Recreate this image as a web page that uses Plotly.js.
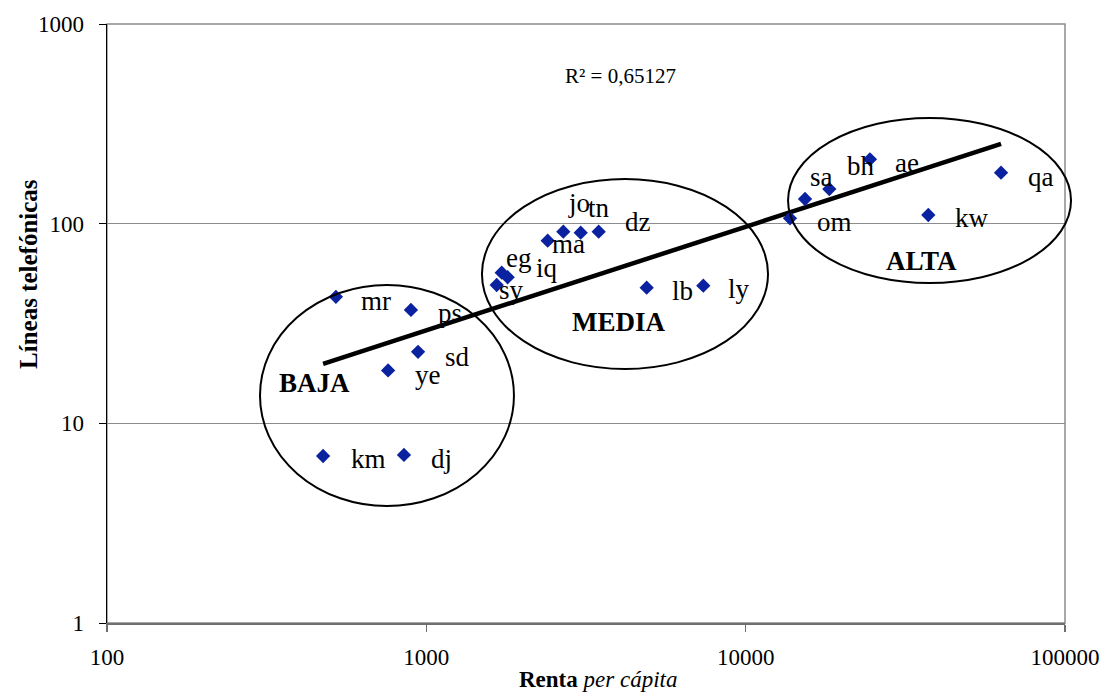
<!DOCTYPE html>
<html>
<head>
<meta charset="utf-8">
<script src="https://cdn.plot.ly/plotly-3.0.1.min.js"></script>
<style>html,body{margin:0;padding:0;background:#fff;}#chart{width:1102px;height:693px;}</style>
</head>
<body>
<div id="chart"></div>
<script>
// ---- data ----
const countries = ['mr','ps','sd','ye','km','dj','eg','iq','sy','ma','jo','tn','dz','lb','ly','om','sa','bh','ae','kw','qa'];
const renta  = [521, 895, 942, 759, 475, 851, 1722, 1798, 1661, 2399, 2685, 3044, 3465, 4898, 7368, 13765, 15340, 18280, 24500, 37320, 63050];
const lineas = [43, 37, 22.8, 18.4, 6.86, 6.95, 56.8, 53.9, 49.3, 82.2, 91.2, 90.1, 91.2, 47.8, 48.9, 106.4, 132.9, 149, 210, 110.5, 180];
const groupNames = ['BAJA', 'MEDIA', 'ALTA'];
const r2Text = 'R² = 0,65127';
const xTickVals = [100, 1000, 10000, 100000];
const xTickText = ['100', '1000', '10000', '100000'];
const yTickVals = [1, 10, 100, 1000];
const yTickText = ['1', '10', '100', '1000'];

// ---- layout / style settings ----
const FONT = 'Liberation Serif, Times New Roman, serif';
const labelShift = {mr:[40,4], ps:[39,3], sd:[39,5], ye:[40,5], km:[45,3], dj:[38,4],
  eg:[17,-15], iq:[39,-9], sy:[15,5], ma:[21,3], jo:[16,-29], tn:[18,-25], dz:[39,-10],
  lb:[36,3], ly:[36,3], om:[45,4], sa:[16,-22], bh:[32,-23], ae:[37,4], kw:[44,3], qa:[40,4]};
const groupPos = {BAJA:[0.2171,0.4007], MEDIA:[0.5344,0.5025], ALTA:[0.8497,0.6043]};
const ellipses = [[0.1597,0.1953,0.4248,0.5643],[0.3914,0.424,0.690,0.7412],[0.7109,0.5676,1.0063,0.8431]];

// power trend line (least squares in log space)
const lx = renta.map(v => Math.log10(v)), ly = lineas.map(v => Math.log10(v));
const n = lx.length;
const mx = lx.reduce((a,b)=>a+b,0)/n, my = ly.reduce((a,b)=>a+b,0)/n;
let sxy=0, sxx=0;
for (let i=0;i<n;i++){ sxy += (lx[i]-mx)*(ly[i]-my); sxx += (lx[i]-mx)**2; }
const slope = sxy/sxx, icpt = my - slope*mx;
const xMin = Math.min(...renta), xMax = Math.max(...renta);
const trendX = [xMin, xMax];
const trendY = trendX.map(x => Math.pow(10, icpt + slope*Math.log10(x)));

const traces = [
  {x: trendX, y: trendY, mode:'lines', line:{color:'#000', width:4.5}, hoverinfo:'skip', showlegend:false},
  {x: renta, y: lineas, text: countries, mode:'markers', type:'scatter',
   marker:{symbol:'diamond', size:11, color:'#0A22A0'}, showlegend:false}
];

const annotations = countries.map((c,i) => ({
  x: Math.log10(renta[i]), y: Math.log10(lineas[i]), xref:'x', yref:'y',
  xanchor:'center', yanchor:'middle',
  text: c, showarrow:false, xshift: labelShift[c][0], yshift: -labelShift[c][1],
  font:{family:FONT, size:27, color:'#000'}
}));
groupNames.forEach(g => annotations.push({
  x: groupPos[g][0], y: groupPos[g][1], xref:'paper', yref:'paper', text:'<b>'+g+'</b>',
  xanchor:'center', yanchor:'middle',
  showarrow:false, font:{family:FONT, size:27, color:'#000'}
}));
annotations.push({x:0.5355, y:0.9132, xref:'paper', yref:'paper', text:r2Text, showarrow:false,
  xanchor:'center', yanchor:'middle', font:{family:FONT, size:21, color:'#000'}});
annotations.push({x:-0.0825, y:0.5826, xref:'paper', yref:'paper', text:'<b>Líneas telefónicas</b>',
  xanchor:'center', yanchor:'middle',
  textangle:-90, showarrow:false, font:{family:FONT, size:25, color:'#000'}});
annotations.push({x:0.5125, y:-0.0945, xref:'paper', yref:'paper', text:'<b>Renta</b> <i>per cápita</i>',
  xanchor:'center', yanchor:'middle',
  showarrow:false, font:{family:FONT, size:23, color:'#000'}});

const shapes = [
  {type:'rect', xref:'paper', yref:'paper', x0:0, y0:0, x1:1, y1:1, line:{color:'#8c8c8c', width:1.5}, layer:'below'}
].concat(ellipses.map(e => ({type:'circle', xref:'paper', yref:'paper', x0:e[0], y0:e[1], x1:e[2], y1:e[3],
  line:{color:'#000', width:2}})));

const layout = {
  width:1102, height:693,
  margin:{l:107, r:37, t:24, b:70},
  paper_bgcolor:'#fff', plot_bgcolor:'#fff',
  showlegend:false,
  xaxis:{type:'log', range:[2,5], tickvals:xTickVals, ticktext:xTickText, showgrid:false, zeroline:false,
    showline:true, linecolor:'#6e6e6e', linewidth:2, ticks:'outside', ticklen:7, tickcolor:'#6e6e6e', tickwidth:1.5,
    ticklabelstandoff:5, tickfont:{family:FONT, size:23, color:'#000'}},
  yaxis:{type:'log', range:[0,3], tickvals:yTickVals, ticktext:yTickText, showgrid:true, gridcolor:'#8c8c8c', gridwidth:1.2,
    zeroline:false, showline:true, linecolor:'#000', linewidth:1.5, ticks:'outside', ticklen:7, tickcolor:'#000',
    ticklabelstandoff:10, tickfont:{family:FONT, size:23, color:'#000'}},
  annotations: annotations,
  shapes: shapes
};

Plotly.newPlot('chart', traces, layout, {staticPlot:true, displayModeBar:false});
</script>
</body>
</html>
